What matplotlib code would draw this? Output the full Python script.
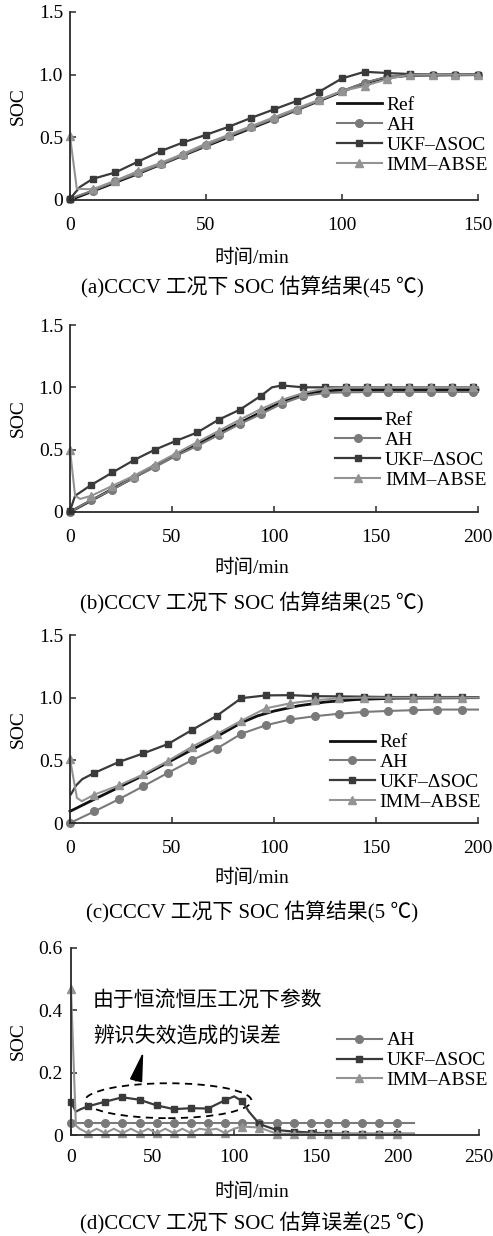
import matplotlib
matplotlib.use('Agg')
import matplotlib.pyplot as plt
from matplotlib.patches import Ellipse

plt.rcParams['font.family'] = ['Liberation Serif', 'Noto Sans CJK SC']
plt.rcParams['font.size'] = 14
plt.rcParams['axes.unicode_minus'] = False

# ---- (a) CCCV, 45 ℃ ----
marks_a = [0, 8.3, 16.7, 25, 33.3, 41.7, 50, 58.3, 66.7, 75, 83.3, 91.7, 100, 108.3, 116.7, 125, 133.3, 141.7, 150]
ref_a_t = [0, 25, 50, 75, 100, 108, 116, 125, 150]
ref_a = [0.0, 0.21, 0.43, 0.645, 0.865, 0.93, 0.975, 0.995, 1.0]
ah_a_t = [0, 8.3, 16.7, 25, 33.3, 41.7, 50, 58.3, 66.7, 75, 83.3, 91.7, 100, 108.3, 116.7, 125, 133.3, 141.7, 150]
ah_a = [0.01, 0.075, 0.148, 0.215, 0.285, 0.36, 0.435, 0.51, 0.58, 0.65, 0.72, 0.795, 0.87, 0.935, 0.985, 1.0, 1.0, 1.0, 1.0]
ukf_a_t = [0, 3.7, 8.3, 16.7, 25, 33.3, 41.7, 50, 58.3, 66.7, 75, 83.3, 91.7, 100, 108.3, 116.7, 125, 133.3, 141.7, 150]
ukf_a = [0.01, 0.105, 0.168, 0.22, 0.306, 0.39, 0.46, 0.52, 0.584, 0.656, 0.723, 0.79, 0.865, 0.97, 1.023, 1.013, 1.005, 1.0, 1.0, 1.0]
imm_a_t = [0, 2.5, 8.3, 16.7, 25, 33.3, 41.7, 50, 58.3, 66.7, 75, 83.3, 91.7, 100, 108.3, 116.7, 125, 133.3, 141.7, 150]
imm_a = [0.51, 0.09, 0.085, 0.155, 0.23, 0.295, 0.37, 0.45, 0.52, 0.59, 0.66, 0.73, 0.80, 0.87, 0.91, 0.965, 1.0, 1.0, 1.0, 1.0]

# ---- (b) CCCV, 25 ℃ ----
marks_b = [0, 10.4, 20.8, 31.2, 41.6, 52, 62.4, 72.8, 83.2, 93.6, 104, 114.4, 124.8, 135.2, 145.6, 156, 166.4, 176.8, 187.2, 197.6]
ref_b_t = [0, 52, 104, 114, 124, 135, 200]
ref_b = [0.0, 0.46, 0.885, 0.945, 0.97, 0.98, 0.98]
ah_b_t = [0, 10.4, 20.8, 31.2, 41.6, 52, 62.4, 72.8, 83.2, 93.6, 104, 114.4, 124.8, 135.2, 145.6, 156, 166.4, 176.8, 187.2, 197.6, 200]
ah_b = [0.0, 0.095, 0.18, 0.276, 0.36, 0.45, 0.53, 0.617, 0.705, 0.785, 0.87, 0.93, 0.955, 0.96, 0.962, 0.963, 0.963, 0.963, 0.963, 0.963, 0.963]
ukf_b_t = [0, 2.5, 10.4, 20.8, 31.2, 41.6, 52, 62.4, 72.8, 83.2, 93.6, 99, 104, 114.4, 124.8, 135.2, 145.6, 156, 166.4, 176.8, 187.2, 197.6, 200]
ukf_b = [0.01, 0.13, 0.217, 0.317, 0.415, 0.50, 0.571, 0.638, 0.74, 0.82, 0.932, 1.0, 1.015, 1.0, 1.0, 1.0, 1.0, 1.0, 1.0, 1.0, 1.0, 1.0, 1.0]
imm_b_t = [0, 2.5, 5, 10.4, 20.8, 31.2, 41.6, 52, 62.4, 72.8, 83.2, 93.6, 104, 114.4, 124.8, 135.2, 145.6, 156, 166.4, 176.8, 187.2, 197.6, 200]
imm_b = [0.5, 0.13, 0.105, 0.13, 0.21, 0.29, 0.38, 0.47, 0.56, 0.65, 0.74, 0.826, 0.90, 0.955, 0.99, 1.0, 1.0, 1.0, 1.0, 1.0, 1.0, 1.0, 1.0]

# ---- (c) CCCV, 5 ℃ ----
marks_c = [0, 12, 24, 36, 48, 60, 72, 84, 96, 108, 120, 132, 144, 156, 168, 180, 192]
ref_c_t = [0, 12, 36, 72, 84, 92, 100, 112, 125, 140, 160, 200]
ref_c = [0.093, 0.19, 0.38, 0.69, 0.80, 0.855, 0.893, 0.935, 0.965, 0.985, 0.996, 1.0]
ah_c_t = [0, 12, 24, 36, 48, 60, 72, 84, 96, 108, 120, 132, 144, 156, 168, 180, 192, 200]
ah_c = [0.0, 0.093, 0.19, 0.294, 0.40, 0.503, 0.594, 0.712, 0.78, 0.826, 0.852, 0.872, 0.886, 0.894, 0.90, 0.905, 0.905, 0.905]
ukf_c_t = [0.5, 3, 6, 12, 24, 36, 48, 60, 72, 84, 96, 108, 120, 132, 144, 156, 168, 180, 192, 200]
ukf_c = [0.23, 0.30, 0.35, 0.40, 0.487, 0.556, 0.63, 0.744, 0.856, 0.996, 1.018, 1.02, 1.012, 1.01, 1.008, 1.005, 1.005, 1.005, 1.005, 1.003]
imm_c_t = [0, 3.4, 5.8, 12, 24, 36, 48, 60, 72, 84, 96, 108, 120, 132, 144, 156, 168, 180, 192, 200]
imm_c = [0.51, 0.20, 0.174, 0.227, 0.30, 0.388, 0.495, 0.61, 0.71, 0.816, 0.915, 0.955, 0.98, 0.995, 1.0, 1.0, 1.0, 1.0, 1.0, 1.0]

# ---- (d) estimation error, 25 ℃ ----
marks_d = [0, 10.5, 21, 31.5, 42, 52.5, 63, 73.5, 84, 94.5, 105, 115.5, 126, 136.5, 147, 157.5, 168, 178.5, 189, 199.5]
ah_d_t = [0, 10.5, 21, 31.5, 42, 52.5, 63, 73.5, 84, 94.5, 105, 115.5, 126, 136.5, 147, 157.5, 168, 178.5, 189, 199.5, 210]
ah_d = [0.037, 0.037, 0.037, 0.037, 0.037, 0.037, 0.037, 0.037, 0.037, 0.037, 0.037,
        0.037, 0.037, 0.037, 0.037, 0.037, 0.037, 0.037, 0.037, 0.037, 0.037]
ukf_d_t = [0, 3, 6, 10.5, 21, 31.5, 42, 52.5, 63, 73.5, 84, 94.5, 100, 105, 109, 115.5, 126, 136.5, 147, 157.5, 168, 178.5, 189, 199.5, 210]
ukf_d = [0.105, 0.075, 0.083, 0.092, 0.107, 0.121, 0.113, 0.095, 0.083, 0.086, 0.085, 0.112, 0.124, 0.108, 0.075,
         0.035, 0.016, 0.011, 0.008, 0.005, 0.004, 0.004, 0.004, 0.004, 0.004]
imm_d_t = [0, 1.5, 3, 5.25, 10.5, 15.75, 21, 26.25, 31.5, 36.75, 42, 47.25, 52.5, 57.75, 63, 68.25, 73.5, 78.75,
           84, 89.25, 94.5, 99.75, 105, 115.5, 126, 136.5, 147, 157.5, 168, 178.5, 189, 199.5, 210]
imm_d = [0.47, 0.25, 0.03, 0.02, 0.006, 0.02, 0.006, 0.02, 0.006, 0.02, 0.006, 0.02, 0.006, 0.02, 0.006, 0.02, 0.006, 0.02,
         0.016, 0.02, 0.006, 0.02, 0.027, 0.024, 0.004, 0.004, 0.004, 0.004, 0.004, 0.004, 0.004, 0.004, 0.004]

soc_ticks = [0, 0.5, 1.0, 1.5]
soc_labels = ['0', '0.5', '1.0', '1.5']
err_ticks = [0, 0.2, 0.4, 0.6]
err_labels = ['0', '0.2', '0.4', '0.6']

captions = ['(a)CCCV 工况下 SOC 估算结果(45 ℃)',
            '(b)CCCV 工况下 SOC 估算结果(25 ℃)',
            '(c)CCCV 工况下 SOC 估算结果(5 ℃)',
            '(d)CCCV 工况下 SOC 估算误差(25 ℃)']

styles = {
    'Ref': dict(color='#111111', lw=2.0),
    'AH': dict(color='#7a7a7a', lw=1.5, marker='o', ms=5.5),
    'UKF–ΔSOC': dict(color='#3a3a3a', lw=1.6, marker='s', ms=5),
    'IMM–ABSE': dict(color='#939393', lw=1.5, marker='^', ms=6),
}

W, H = 493, 1236
fig = plt.figure(figsize=(W / 100, H / 100), dpi=100)


def rect(left, top, right, bottom):
    return [left / W, 1 - bottom / H, (right - left) / W, (bottom - top) / H]


def draw_panel(box, series, marks, xmax, xticks, yticks, ylabels, leg_xy, xpad, ypad):
    ax = fig.add_axes(rect(*box))
    for name, t, v in series:
        st = styles[name]
        mk = [i for i, x in enumerate(t) if x in marks] if 'marker' in st else None
        ax.plot(t, v, label=name, markevery=mk, clip_on=False, **st)
    ax.set_xlim(0, xmax)
    ax.set_ylim(yticks[0], yticks[-1])
    ax.set_xticks(xticks)
    ax.set_xticklabels([str(x) for x in xticks])
    ax.set_yticks(yticks)
    ax.set_yticklabels(ylabels)
    for side in ['top', 'right']:
        ax.spines[side].set_visible(False)
    for side in ['left', 'bottom']:
        ax.spines[side].set_color('#2a2a2a')
        ax.spines[side].set_linewidth(1.3)
    ax.tick_params(axis='both', direction='in', length=4, width=1.1, color='#2a2a2a', labelsize=14)
    ax.tick_params(axis='x', pad=xpad)
    ax.tick_params(axis='y', pad=ypad)
    ax.legend(loc='upper left', bbox_to_anchor=leg_xy, frameon=False, fontsize=14,
              handlelength=2.3, handletextpad=0.25, labelspacing=0.12,
              borderpad=0, borderaxespad=0)
    return ax


ax_a = draw_panel((70, 12, 478, 200),
                  [('Ref', ref_a_t, ref_a), ('AH', ah_a_t, ah_a),
                   ('UKF–ΔSOC', ukf_a_t, ukf_a), ('IMM–ABSE', imm_a_t, imm_a)],
                  marks_a, 150, [0, 50, 100, 150], soc_ticks, soc_labels, (0.654, 0.55), 12, 5)
ax_b = draw_panel((70, 325, 478, 512),
                  [('Ref', ref_b_t, ref_b), ('AH', ah_b_t, ah_b),
                   ('UKF–ΔSOC', ukf_b_t, ukf_b), ('IMM–ABSE', imm_b_t, imm_b)],
                  marks_b, 200, [0, 50, 100, 150, 200], soc_ticks, soc_labels, (0.65, 0.537), 12, 5)
ax_c = draw_panel((70, 635, 478, 823),
                  [('Ref', ref_c_t, ref_c), ('AH', ah_c_t, ah_c),
                   ('UKF–ΔSOC', ukf_c_t, ukf_c), ('IMM–ABSE', imm_c_t, imm_c)],
                  marks_c, 200, [0, 50, 100, 150, 200], soc_ticks, soc_labels, (0.637, 0.475), 12, 5)
ax_d = draw_panel((71, 948, 479, 1135),
                  [('AH', ah_d_t, ah_d), ('UKF–ΔSOC', ukf_d_t, ukf_d), ('IMM–ABSE', imm_d_t, imm_d)],
                  marks_d, 250, [0, 50, 100, 150, 200, 250], err_ticks, err_labels, (0.652, 0.552), 10, 6)

# note on the UKF error hump
ax_d.add_patch(Ellipse((59.6, 0.11), 102, 0.112, fill=False, ls=(0, (4, 3)), lw=1.3, ec='black'))
ax_d.annotate('', xy=(44.3, 0.267), xytext=(39.8, 0.174),
              arrowprops=dict(arrowstyle='-|>,head_length=1.3,head_width=0.28', lw=1.2,
                              color='black', shrinkA=0, shrinkB=0))
ax_d.text(13.5, 0.427, '由于恒流恒压工况下参数', fontsize=15, va='center', ha='left')
ax_d.text(13.5, 0.311, '辨识失效造成的误差', fontsize=15, va='center', ha='left')

# axis titles and captions
for ax, caption, xl_y, cap_y in zip([ax_a, ax_b, ax_c, ax_d], captions,
                                    [258, 568, 878, 1192], [287, 603, 912, 1223]):
    pos = ax.get_position()
    fig.text(18 / W, (pos.y0 + pos.y1) / 2, 'SOC', rotation=90, ha='center', va='center', fontsize=14)
    fig.text(252 / W, 1 - xl_y / H, '时间/min', ha='center', va='center', fontsize=14)
    fig.text(252 / W, 1 - cap_y / H, caption, ha='center', va='center', fontsize=15)

fig.savefig('out.png', dpi=100)
